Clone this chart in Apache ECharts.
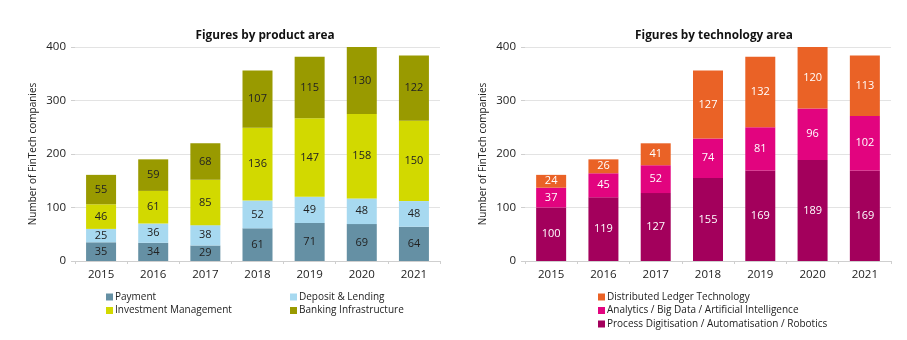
<!DOCTYPE html>
<html>
<head>
<meta charset="utf-8">
<script src="https://cdn.jsdelivr.net/npm/echarts@6/dist/echarts.min.js"></script>
<style>html,body{margin:0;padding:0;background:#fff}#c{width:907px;height:340px}</style>
</head>
<body>
<div id="c"></div>
<script>
const years = ['2015','2016','2017','2018','2019','2020','2021'];
const payment = [35,34,29,61,71,69,64];
const depositLending = [25,36,38,52,49,48,48];
const investmentMgmt = [46,61,85,136,147,158,150];
const bankingInfra = [55,59,68,107,115,130,122];
const processDigit = [100,119,127,155,169,189,169];
const analytics = [37,45,52,74,81,96,102];
const dlt = [24,26,41,127,132,120,113];
const yTicks = [0,100,200,300,400];

const FONT = '"Open Sans", "Noto Sans", sans-serif';
const chart = echarts.init(document.getElementById('c'));

function bar(name, data, color, idx, labelColor){
  return {
    name, type:'bar', stack:'s'+idx, xAxisIndex:idx, yAxisIndex:idx,
    data, barWidth:30, clip:true,
    itemStyle:{color},
    label:{show:true, position:'inside', color:labelColor, fontSize:11, fontFamily:FONT},
    emphasis:{disabled:true}
  };
}
function xAx(idx){
  return {type:'category', gridIndex:idx, data:years,
    axisLine:{lineStyle:{color:'#cfcfcf'}},
    axisTick:{show:true, length:3, lineStyle:{color:'#cfcfcf'}},
    axisLabel:{color:'#222', fontSize:11.5, fontFamily:FONT, margin:8}};
}
function yAx(idx){
  return {type:'value', gridIndex:idx, min:yTicks[0], max:yTicks[yTicks.length-1], interval:100,
    name:'Number of FinTech companies', nameLocation:'middle', nameGap:37,
    nameTextStyle:{color:'#222', fontSize:10, fontFamily:FONT},
    axisLine:{show:false},
    axisTick:{show:true, length:4, lineStyle:{color:'#cfcfcf'}},
    splitLine:{lineStyle:{color:'#e3e3e3'}},
    axisLabel:{color:'#222', fontSize:11.5, fontFamily:FONT, margin:9}};
}
const legendCommon = {orient:'vertical', height:60, padding:0, itemWidth:7, itemHeight:7, itemGap:1.5, icon:'rect',
  textStyle:{color:'#222', fontSize:10, lineHeight:12, fontFamily:FONT, padding:[0,0,0,-3]}, selectedMode:false};

chart.setOption({
  animation:false,
  title:[
    {text:'Figures by product area', left:260, top:25, textAlign:'center',
      textStyle:{fontSize:11.8, fontWeight:'bold', color:'#111', fontFamily:FONT}},
    {text:'Figures by technology area', left:709, top:25, textAlign:'center',
      textStyle:{fontSize:11.8, fontWeight:'bold', color:'#111', fontFamily:FONT}}
  ],
  grid:[
    {left:75, right:467, top:47, bottom:79},
    {left:525, right:16, top:47, bottom:79}
  ],
  xAxis:[xAx(0), xAx(1)],
  yAxis:[yAx(0), yAx(1)],
  legend:[
    Object.assign({left:106, top:291, data:['Payment','Investment Management']}, legendCommon),
    Object.assign({left:290, top:291, data:['Deposit & Lending','Banking Infrastructure']}, legendCommon),
    Object.assign({left:598, top:291, data:['Distributed Ledger Technology','Analytics / Big Data / Artificial Intelligence','Process Digitisation / Automatisation / Robotics']}, legendCommon)
  ],
  series:[
    bar('Payment', payment, '#6590a4', 0, '#222'),
    bar('Deposit & Lending', depositLending, '#a7d9f0', 0, '#222'),
    bar('Investment Management', investmentMgmt, '#d2d900', 0, '#222'),
    bar('Banking Infrastructure', bankingInfra, '#999a00', 0, '#222'),
    bar('Process Digitisation / Automatisation / Robotics', processDigit, '#a3005c', 1, '#fff'),
    bar('Analytics / Big Data / Artificial Intelligence', analytics, '#e2047f', 1, '#fff'),
    bar('Distributed Ledger Technology', dlt, '#ea6226', 1, '#fff')
  ]
});
</script>
</body>
</html>
